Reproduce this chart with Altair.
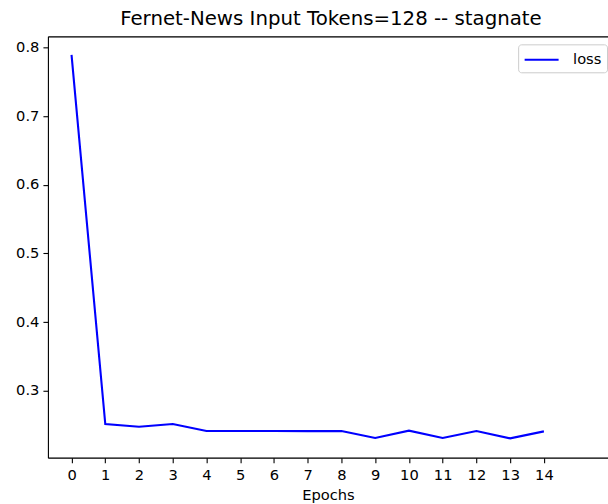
import altair as alt
import pandas as pd

epochs = list(range(15))
loss = [0.789, 0.2516, 0.2476, 0.2516, 0.2415, 0.2415, 0.2415, 0.2413, 0.2414,
        0.2313, 0.2420, 0.2313, 0.2415, 0.2308, 0.2410]
series = ["loss"] * 15
x_ticks = list(range(15))
y_ticks = [0.3, 0.4, 0.5, 0.6, 0.7, 0.8]

df = pd.DataFrame({"Epochs": epochs, "loss": loss, "series": series})

FONT = "DejaVu Sans"
XDOM = [-0.7, 15.9]
YDOM = [0.2027, 0.816]
LBL = 14.7

y_axis = alt.Axis(values=y_ticks, format=".1f", title=None, grid=False,
                  domainColor="black", tickColor="black", tickSize=5,
                  tickWidth=1.1, labelColor="black", labelFontSize=LBL,
                  labelFont=FONT, labelPadding=4, domainWidth=1.1,
                  labelFlush=False)

base = alt.Chart(df)

line = base.mark_line(strokeWidth=2.1, clip=True).encode(
    x=alt.X("Epochs:Q",
            scale=alt.Scale(domain=XDOM, nice=False, zero=False),
            axis=alt.Axis(values=x_ticks, format="d", title="Epochs", grid=False,
                          domainColor="black", tickColor="black", tickSize=5,
                          tickWidth=1.1, labelColor="black", labelFontSize=LBL,
                          labelFont=FONT, titleFont=FONT, titleFontSize=LBL,
                          titleFontWeight="normal", titleColor="black",
                          labelPadding=5, titlePadding=5, domainWidth=1.1,
                          labelFlush=False)),
    y=alt.Y("loss:Q", scale=alt.Scale(domain=YDOM, nice=False, zero=False),
            axis=y_axis),
    color=alt.Color("series:N", scale=alt.Scale(domain=["loss"], range=["#0000ff"]),
                    legend=alt.Legend(title=None, orient="none", legendX=471, legendY=8,
                                      symbolType="M-1,0H2.78", symbolSize=324,
                                      symbolStrokeWidth=2.1, labelFontSize=LBL,
                                      labelFont=FONT, labelColor="black",
                                      strokeColor="#cccccc", fillColor="white",
                                      cornerRadius=3, padding=5, labelOffset=29)),
)

top_border = base.mark_line(opacity=0).encode(
    x=alt.X("Epochs:Q",
            scale=alt.Scale(domain=XDOM, nice=False, zero=False),
            axis=alt.Axis(orient="top", labels=False, ticks=False, title=None,
                          grid=False, domainColor="black", domainWidth=1.1)),
    y=alt.Y("loss:Q", scale=alt.Scale(domain=YDOM, nice=False, zero=False),
            axis=y_axis),
)

chart = alt.layer(line, top_border).resolve_axis(x="independent").properties(
    width=561, height=422,
    title=alt.TitleParams("Fernet-News Input Tokens=128 -- stagnate", font=FONT,
                          fontSize=19.8, fontWeight="normal", color="black",
                          anchor="middle", offset=8, dx=3),
    padding={"left": 15, "top": 8, "right": 0, "bottom": 0},
).configure_view(stroke=None).configure(background="white")

chart.save("out.html", embed_options={"renderer": "svg", "actions": False})
